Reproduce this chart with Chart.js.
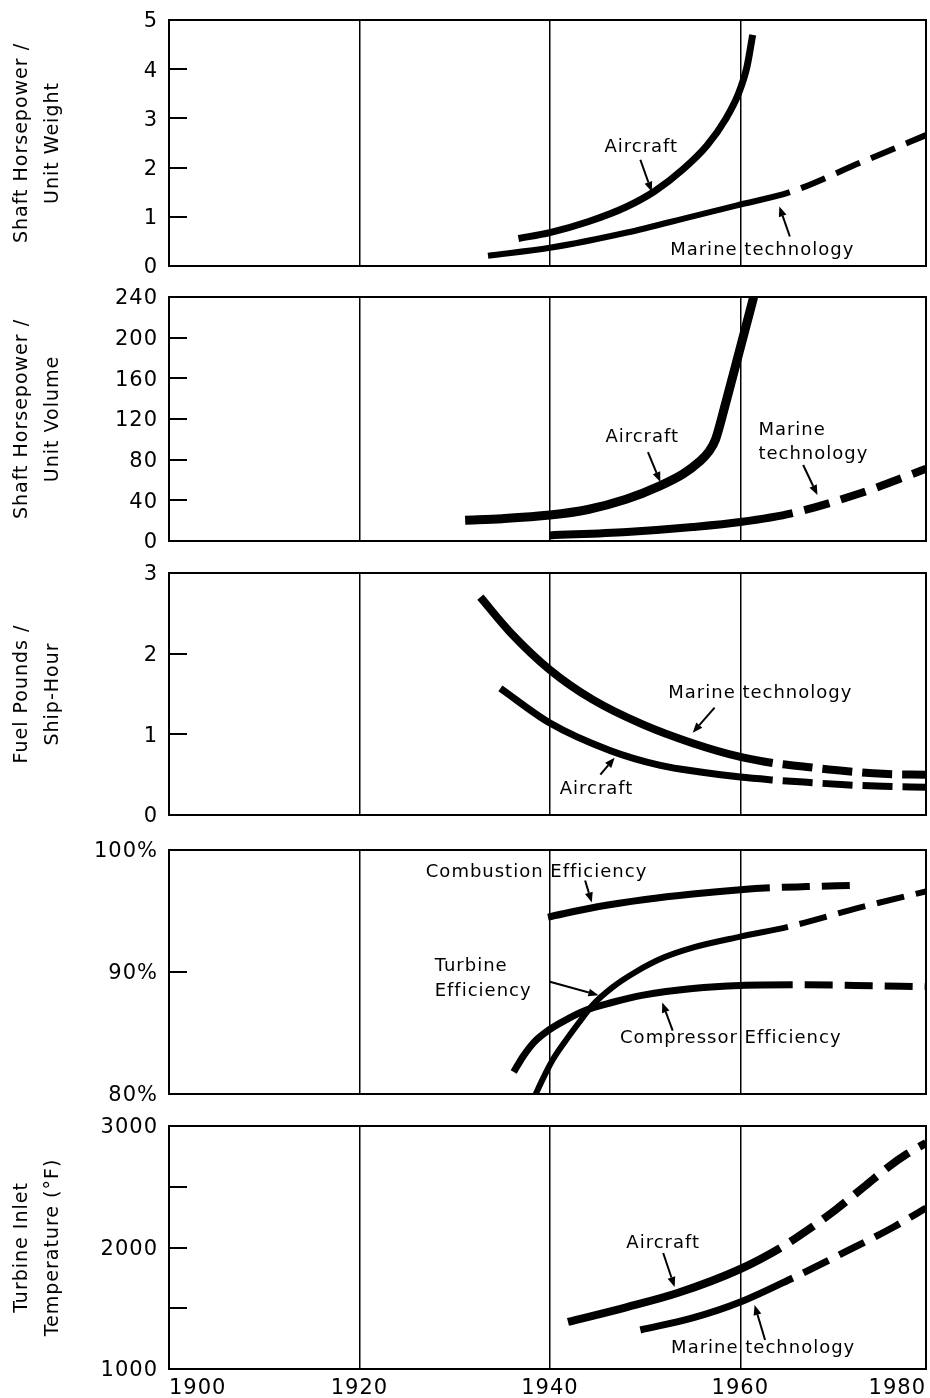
<!DOCTYPE html>
<html>
<head>
<meta charset="utf-8">
<title>Gas turbine technology trends</title>
<script src="https://cdn.jsdelivr.net/npm/chart.js@4.4.1/dist/chart.umd.min.js"></script>
<style>
  body { margin: 0; background: #fff; }
  #wrap { position: relative; width: 930px; height: 1398px; }
  canvas { position: absolute; left: 0; }
</style>
</head>
<body>
<div id="wrap">
  <canvas id="chart1" width="930" height="274" style="top:6px"></canvas>
  <canvas id="chart2" width="930" height="272" style="top:283px"></canvas>
  <canvas id="chart3" width="930" height="270" style="top:559px"></canvas>
  <canvas id="chart4" width="930" height="272" style="top:836px"></canvas>
  <canvas id="chart5" width="930" height="286" style="top:1112px"></canvas>
</div>
<script>
// x axis
const yearTicks = [1900, 1920, 1940, 1960, 1980];

// panel 1 - shaft horsepower / unit weight
const weightTicks = [0, 1, 2, 3, 4, 5];
const weightAircraftYears = [1936.7, 1940, 1944, 1948, 1951, 1954, 1956.5, 1958.5, 1959.8, 1960.7, 1961.3];
const weightAircraft = [0.56, 0.68, 0.9, 1.2, 1.52, 1.97, 2.45, 3.0, 3.5, 4.05, 4.7];
const weightMarineYears = [1933.5, 1940, 1948.1, 1955, 1960, 1965.2, 1972.6, 1979.5];
const weightMarine = [0.21, 0.37, 0.68, 1.01, 1.25, 1.5, 2.1, 2.66];

// panel 2 - shaft horsepower / unit volume
const volumeTicks = [0, 40, 80, 120, 160, 200, 240];
const volumeAircraftYears = [1931.1, 1935, 1940, 1944, 1948, 1951.5, 1954, 1955.7, 1956.7, 1957.4, 1958.5, 1959.8, 1961.4];
const volumeAircraft = [20.5, 22, 25.5, 31, 41, 54, 66, 78, 88, 100, 137, 183, 240];
const volumeMarineYears = [1940, 1948.1, 1955, 1960, 1965.5, 1972.6, 1979.5];
const volumeMarine = [5.5, 8.9, 13.8, 18.7, 27.5, 47, 71];

// panel 3 - fuel pounds / ship-hour
const fuelTicks = [0, 1, 2, 3];
const fuelMarineYears = [1932.7, 1935.8, 1940, 1944.5, 1949.8, 1955, 1960, 1963.4, 1967, 1971, 1975, 1979.5];
const fuelMarine = [2.7, 2.27, 1.8, 1.43, 1.12, 0.89, 0.72, 0.645, 0.595, 0.545, 0.51, 0.5];
const fuelAircraftYears = [1934.8, 1940, 1946.3, 1951.6, 1956, 1960, 1963.4, 1967, 1971, 1975, 1979.5];
const fuelAircraft = [1.57, 1.14, 0.8, 0.615, 0.53, 0.47, 0.435, 0.405, 0.375, 0.355, 0.345];

// panel 4 - component efficiencies (%)
const effTicks = [80, 90, 100];
const combustionYears = [1939.8, 1945, 1950, 1955, 1960, 1963.1, 1967, 1971.5];
const combustion = [94.5, 95.35, 95.95, 96.4, 96.75, 96.9, 97.0, 97.1];
const turbineYears = [1938.4, 1939.3, 1940.3, 1941.5, 1943, 1944.5, 1946.5, 1949, 1952, 1955, 1960, 1965, 1972.6, 1979.5];
const turbine = [79.8, 81.3, 82.8, 84.2, 85.8, 87.3, 88.7, 90.0, 91.2, 92.0, 92.9, 93.7, 95.3, 96.6];
const compressorYears = [1936.2, 1937.2, 1938.4, 1939.8, 1941.5, 1943.9, 1946.5, 1949.8, 1955, 1960, 1965.5, 1972, 1979.5];
const compressor = [81.8, 83.1, 84.3, 85.2, 86.0, 86.9, 87.5, 88.1, 88.65, 88.9, 88.95, 88.9, 88.8];

// panel 5 - turbine inlet temperature (F)
const tempTicks = [1000, 1500, 2000, 2500, 3000];
const tempAircraftYears = [1941.9, 1948.1, 1953.4, 1960, 1964.2, 1967, 1970, 1973, 1975.5, 1977.5, 1979.5];
const tempAircraft = [1387, 1510, 1625, 1823, 1996, 2140, 2310, 2500, 2660, 2770, 2860];
const tempMarineYears = [1949.5, 1955, 1960, 1965.5, 1970.8, 1976.1, 1979.5];
const tempMarine = [1321, 1420, 1551, 1749, 1955, 2169, 2325];

const FONT = '"DejaVu Sans", sans-serif';

function drawArrow(ctx, x1, y1, x2, y2) {
  const ang = Math.atan2(y2 - y1, x2 - x1);
  const head = 10, half = 4;
  const bx = x2 - head * Math.cos(ang), by = y2 - head * Math.sin(ang);
  ctx.lineWidth = 2;
  ctx.beginPath();
  ctx.moveTo(x1, y1);
  ctx.lineTo(bx, by);
  ctx.stroke();
  ctx.beginPath();
  ctx.moveTo(x2, y2);
  ctx.lineTo(bx + half * Math.sin(ang), by - half * Math.cos(ang));
  ctx.lineTo(bx - half * Math.sin(ang), by + half * Math.cos(ang));
  ctx.closePath();
  ctx.fill();
}

// frame, inner tick marks, labels and arrows
function paperPlugin(notes, arrows) {
  return {
    id: 'paper',
    beforeUpdate(chart) { chart.ctx.letterSpacing = '1px'; },
    beforeDraw(chart) { chart.ctx.letterSpacing = '1px'; },
    afterDraw(chart) {
      const { ctx, chartArea: a, scales: { x, y } } = chart;
      ctx.save();
      ctx.strokeStyle = '#000';
      ctx.fillStyle = '#000';
      ctx.lineWidth = 2;
      y.ticks.forEach(t => {
        if (t.value <= y.min || t.value >= y.max) return;
        const py = Math.round(y.getPixelForValue(t.value));
        ctx.beginPath();
        ctx.moveTo(a.left, py);
        ctx.lineTo(a.left + 18, py);
        ctx.stroke();
      });
      ctx.strokeRect(a.left, a.top, a.right - a.left, a.bottom - a.top);

      ctx.font = '18px ' + FONT;
      ctx.textBaseline = 'middle';
      notes.forEach(n => {
        ctx.textAlign = n.align || 'center';
        ctx.fillText(n.text, x.getPixelForValue(n.at[0]), y.getPixelForValue(n.at[1]));
      });
      arrows.forEach(([from, to]) => {
        drawArrow(ctx, x.getPixelForValue(from[0]), y.getPixelForValue(from[1]),
          x.getPixelForValue(to[0]), y.getPixelForValue(to[1]));
      });
      ctx.restore();
    }
  };
}

function series(years, values, width, dashFrom, dash) {
  const pattern = dash || [26, 12];
  return {
    data: years.map((yr, i) => ({ x: yr, y: values[i] })),
    borderColor: '#000',
    borderWidth: width,
    borderCapStyle: 'butt',
    pointRadius: 0,
    fill: false,
    cubicInterpolationMode: 'monotone',
    segment: {
      borderDash: c => (c.p0.parsed.x >= dashFrom ? pattern : undefined),
      borderDashOffset: c => (c.p0.parsed.x >= dashFrom ? pattern[0] : undefined)
    }
  };
}

function makePanel(id, p) {
  const ctx = document.getElementById(id);
  new Chart(ctx, {
    type: 'line',
    data: { datasets: p.datasets },
    options: {
      responsive: false,
      animation: false,
      events: [],
      layout: { padding: { top: 14, right: 4, bottom: p.showYears ? 0 : 14, left: 0 } },
      plugins: { legend: { display: false }, tooltip: { enabled: false } },
      scales: {
        x: {
          type: 'linear',
          min: 1900,
          max: 1979.5,
          afterBuildTicks: s => { s.ticks = yearTicks.map(v => ({ value: Math.min(v, s.max) })); },
          afterFit: s => {
            s.height = p.showYears ? 29 : 0;
            s.paddingLeft = 0;
            s.paddingRight = 0;
          },
          grid: { color: '#000', lineWidth: 1.5, drawTicks: false },
          border: { display: false },
          ticks: {
            display: !!p.showYears,
            align: 'inner',
            maxRotation: 0,
            autoSkip: false,
            padding: 7,
            color: '#000',
            font: { family: FONT, size: 21 },
            callback: v => String(Math.round(v))
          }
        },
        y: {
          min: p.ticks[0],
          max: p.ticks[p.ticks.length - 1],
          afterBuildTicks: s => { s.ticks = p.ticks.map(v => ({ value: v })); },
          afterFit: s => {
            s.width = 169;
            s.paddingTop = 10;
            s.paddingBottom = 10;
          },
          grid: { display: false, drawTicks: false },
          border: { display: false },
          ticks: {
            padding: 11,
            labelOffset: 2,
            color: '#000',
            font: { family: FONT, size: 21 },
            callback: p.label || (v => String(v))
          },
          title: {
            display: !!p.title,
            text: p.title,
            color: '#000',
            font: { family: FONT, size: 19, lineHeight: 1.6 },
            padding: { top: 7, bottom: 0 }
          }
        }
      }
    },
    plugins: [paperPlugin(p.notes, p.arrows)]
  });
}

makePanel('chart1', {
  ticks: weightTicks,
  title: ['Shaft Horsepower /', 'Unit Weight'],
  datasets: [
    series(weightAircraftYears, weightAircraft, 7, Infinity),
    series(weightMarineYears, weightMarine, 6, 1965.2)
  ],
  notes: [
    { text: 'Aircraft', at: [1949.6, 2.41] },
    { text: 'Marine technology', at: [1962.3, 0.31] }
  ],
  arrows: [
    [[1949.5, 2.16], [1950.7, 1.51]],
    [[1965.2, 0.6], [1964.1, 1.21]]
  ]
});

makePanel('chart2', {
  ticks: volumeTicks,
  title: ['Shaft Horsepower /', 'Unit Volume'],
  datasets: [
    series(volumeAircraftYears, volumeAircraft, 9, Infinity),
    series(volumeMarineYears, volumeMarine, 8, 1965.5)
  ],
  notes: [
    { text: 'Aircraft', at: [1949.7, 102] },
    { text: 'Marine', at: [1961.9, 109], align: 'left' },
    { text: 'technology', at: [1961.9, 85.6], align: 'left' }
  ],
  arrows: [
    [[1950.3, 87.5], [1951.6, 58]],
    [[1966.6, 74.8], [1968.1, 45.2]]
  ]
});

makePanel('chart3', {
  ticks: fuelTicks,
  title: ['Fuel Pounds /', 'Ship-Hour'],
  datasets: [
    series(fuelMarineYears, fuelMarine, 8, 1963.4, [30, 10]),
    series(fuelAircraftYears, fuelAircraft, 7, 1963.4, [30, 10])
  ],
  notes: [
    { text: 'Marine technology', at: [1962.1, 1.51] },
    { text: 'Aircraft', at: [1944.9, 0.32] }
  ],
  arrows: [
    [[1957.3, 1.33], [1955, 1.02]],
    [[1945.3, 0.5], [1946.8, 0.71]]
  ]
});

makePanel('chart4', {
  ticks: effTicks,
  label: v => v + '%',
  datasets: [
    series(combustionYears, combustion, 7, 1963.1, [28, 12]),
    series(turbineYears, turbine, 6, 1965, [28, 12]),
    series(compressorYears, compressor, 7, 1965.5, [28, 12])
  ],
  notes: [
    { text: 'Combustion Efficiency', at: [1938.6, 98.2] },
    { text: 'Turbine', at: [1927.9, 90.5], align: 'left' },
    { text: 'Efficiency', at: [1927.9, 88.4], align: 'left' },
    { text: 'Compressor Efficiency', at: [1959, 84.6] }
  ],
  arrows: [
    [[1943.7, 97.5], [1944.4, 95.7]],
    [[1940, 89.2], [1945.1, 88.1]],
    [[1952.9, 85.2], [1951.8, 87.5]]
  ]
});

makePanel('chart5', {
  ticks: tempTicks,
  label: v => (v % 1000 === 0 ? String(v) : ''),
  title: ['Turbine Inlet', 'Temperature (°F)'],
  showYears: true,
  datasets: [
    series(tempAircraftYears, tempAircraft, 8, 1964.2, [28, 12]),
    series(tempMarineYears, tempMarine, 7, 1965.5, [28, 12])
  ],
  notes: [
    { text: 'Aircraft', at: [1951.9, 2037] },
    { text: 'Marine technology', at: [1962.4, 1173] }
  ],
  arrows: [
    [[1951.9, 1955], [1953.1, 1675]],
    [[1962.6, 1239], [1961.5, 1527]]
  ]
});
</script>
</body>
</html>
